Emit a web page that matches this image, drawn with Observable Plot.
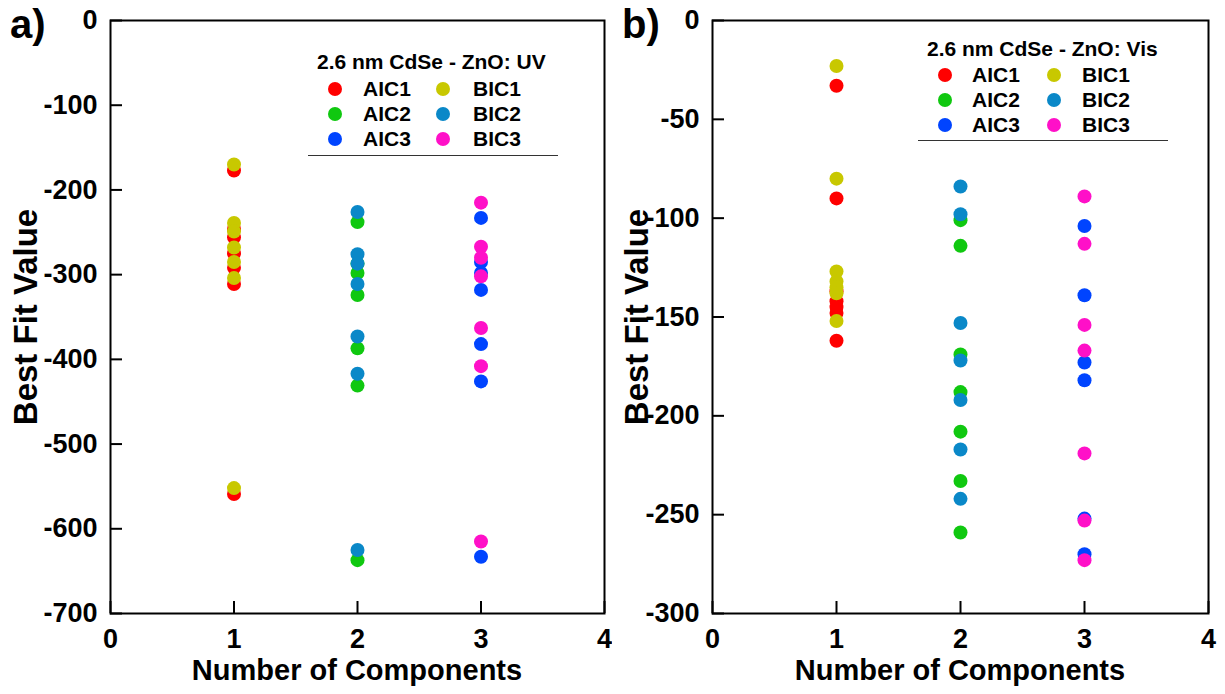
<!DOCTYPE html>
<html><head><meta charset="utf-8">
<script src="https://cdn.jsdelivr.net/npm/d3@7"></script>
<script src="https://cdn.jsdelivr.net/npm/@observablehq/plot@0.6"></script>
<style>
body{margin:0;background:#fff;font-family:"Liberation Sans",Arial,sans-serif;}
#wrap{position:relative;width:1225px;height:694px;overflow:hidden;}
.panel{position:absolute;top:0;}
.abs{position:absolute;font-weight:bold;white-space:nowrap;color:#000;}
.plabel{font-size:40px;line-height:46px;}
.xlab{font-size:29px;line-height:32px;transform:translateX(-50%);}
.ylab{font-size:33px;line-height:36px;transform:translate(-50%,-50%) rotate(-90deg);}
.legtitle{font-size:21px;line-height:24px;}
.legtext{font-size:21px;line-height:24px;}
.legdot{position:absolute;width:14px;height:14px;border-radius:50%;}
.legline{position:absolute;height:0;border-top:1.5px solid #333;}
</style></head><body>
<div id="wrap"></div>
<script>
// ---- categories / series ----
const components = [1, 2, 3];
const seriesNames = ["AIC1", "AIC2", "AIC3", "BIC1", "BIC2", "BIC3"];
const seriesColors = ["#ff0000", "#10c810", "#0044ff", "#c8c800", "#0a88c8", "#ff10c8"];
const xTicks = [0, 1, 2, 3, 4];
const yTicksUV = [0, -100, -200, -300, -400, -500, -600, -700];
const yTicksVis = [0, -50, -100, -150, -200, -250, -300];

// ---- panel a) UV ----
const uvAIC1 = [-177, -246, -256, -275, -292, -311, -559];
const uvBIC1 = [-170, -239, -249, -268, -285, -304, -552];
const uvAIC2 = [-238, -287, -298, -324, -387, -431, -637];
const uvBIC2 = [-226, -276, -287, -311, -373, -417, -625];
const uvAIC3 = [-233, -285, -298, -318, -382, -426, -633];
const uvBIC3 = [-215, -267, -280, -302, -363, -408, -615];

// ---- panel b) Vis ----
const visAIC1 = [-33, -90, -137, -142, -145, -148, -162];
const visBIC1 = [-23, -80, -127, -132, -135, -138, -152];
const visAIC2 = [-101, -114, -169, -188, -208, -233, -259];
const visBIC2 = [-84, -98, -153, -172, -192, -217, -242];
const visAIC3 = [-104, -139, -173, -182, -252, -270];
const visBIC3 = [-89, -113, -154, -167, -219, -253, -273];

function rows(aic, bic) {
  const out = [];
  aic.forEach((vals, i) => vals.forEach(v => out.push({n: components[i], v, s: seriesNames[i]})));
  bic.forEach((vals, i) => vals.forEach(v => out.push({n: components[i], v, s: seriesNames[3 + i]})));
  return out;
}

function panel(data, yTicks, opts) {
  const font = "Liberation Sans, Arial, sans-serif";
  const H = 694, mt = 20, mb = 81, tick = 12;
  const plotW = opts.width - opts.ml - opts.mr, plotH = H - mt - mb;
  const yMin = yTicks[yTicks.length - 1], yMax = 0, xMin = 0, xMax = 4;
  const tickYdata = (yMax - yMin) * tick / plotH;   // inward tick length in y units
  const tickXdata = (xMax - xMin) * tick / plotW;   // inward tick length in x units
  return Plot.plot({
    width: opts.width, height: H,
    marginLeft: opts.ml, marginRight: opts.mr, marginTop: mt, marginBottom: mb,
    style: {fontFamily: font, background: "white", overflow: "visible"},
    x: {domain: [xMin, xMax]},
    y: {domain: [yMin, yMax]},
    color: {domain: seriesNames, range: seriesColors},
    marks: [
      Plot.ruleX(xTicks, {x: d => d, y1: yMin, y2: yMin + tickYdata, stroke: "black", strokeWidth: 2}),
      Plot.ruleY(yTicks, {y: d => d, x1: xMin, x2: xMin + tickXdata, stroke: "black", strokeWidth: 2}),
      Plot.frame({stroke: "black", strokeWidth: 2}),
      Plot.axisX({ticks: xTicks, tickSize: 0, tickPadding: 15, fontSize: 27, fontWeight: "bold", label: null, tickFormat: d => String(d)}),
      Plot.axisY({ticks: yTicks, tickSize: 0, tickPadding: 13, fontSize: 27, fontWeight: "bold", label: null, tickFormat: d => String(d)}),
      Plot.dot(data, {x: "n", y: "v", fill: d => d.s, r: 7, stroke: null})
    ]
  });
}

const wrap = document.getElementById("wrap");
function place(el, left) { el.classList.add("panel"); el.style.left = left + "px"; wrap.appendChild(el); }
place(panel(rows([uvAIC1, uvAIC2, uvAIC3], [uvBIC1, uvBIC2, uvBIC3]), yTicksUV, {width: 612, ml: 110, mr: 8}), 0);
place(panel(rows([visAIC1, visAIC2, visAIC3], [visBIC1, visBIC2, visBIC3]), yTicksVis, {width: 613, ml: 100, mr: 17}), 612);

function txt(cls, s, left, top) {
  const d = document.createElement("div");
  d.className = "abs " + cls; d.textContent = s;
  d.style.left = left + "px"; d.style.top = top + "px";
  wrap.appendChild(d); return d;
}
txt("plabel", "a)", 10, 1);
txt("plabel", "b)", 622, 1);
txt("xlab", "Number of Components", 357, 654);
txt("xlab", "Number of Components", 960, 654);
txt("ylab", "Best Fit Value", 26, 317);
txt("ylab", "Best Fit Value", 637, 317);

function legend(title, tx, ty, rowY, dotX, textX, line) {
  txt("legtitle", title, tx, ty - 12);
  for (let c = 0; c < 2; c++) {
    for (let r = 0; r < 3; r++) {
      const i = c * 3 + r;
      const dot = document.createElement("div");
      dot.className = "legdot";
      dot.style.background = seriesColors[i];
      dot.style.left = (dotX[c] - 7) + "px";
      dot.style.top = (rowY[r] - 7) + "px";
      wrap.appendChild(dot);
      txt("legtext", seriesNames[i], textX[c], rowY[r] - 12);
    }
  }
  const l = document.createElement("div");
  l.className = "legline";
  l.style.left = line[0] + "px"; l.style.width = (line[1] - line[0]) + "px"; l.style.top = line[2] + "px";
  wrap.appendChild(l);
}
legend("2.6 nm CdSe - ZnO: UV", 317, 62, [89, 114, 139], [335, 443], [363, 473], [308, 558, 155]);
legend("2.6 nm CdSe - ZnO: Vis", 927, 49, [75, 100, 125], [945, 1054], [972, 1082], [918, 1168, 140]);
</script>
</body></html>
